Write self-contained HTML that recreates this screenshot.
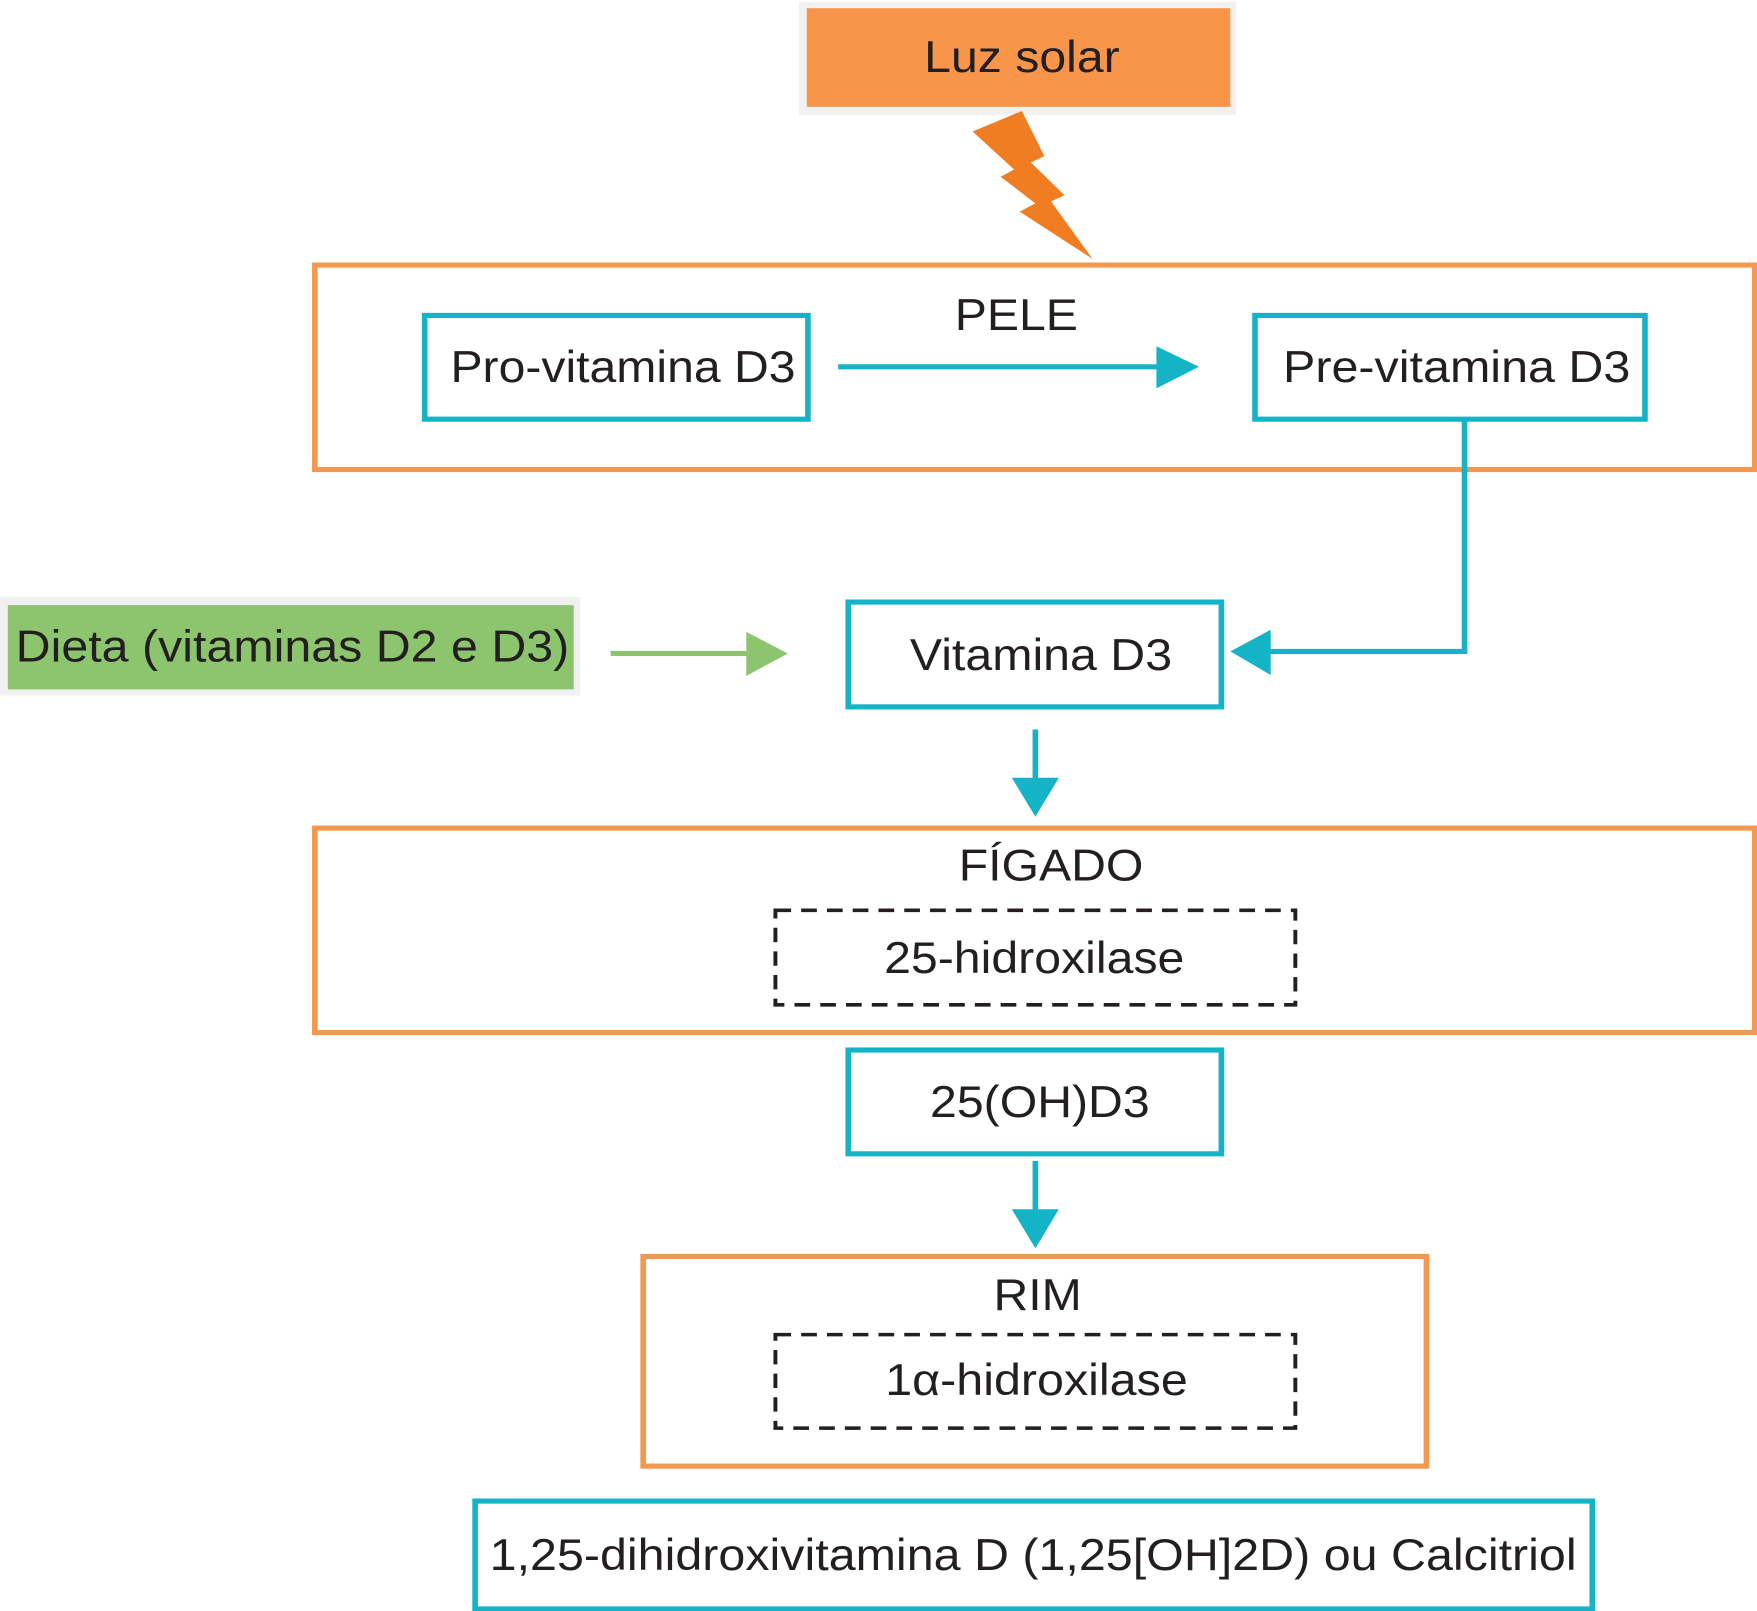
<!DOCTYPE html>
<html><head><meta charset="utf-8"><style>html,body{margin:0;padding:0;background:#fff}svg{display:block}</style></head>
<body>
<svg width="1757" height="1611" viewBox="0 0 1568 1568" preserveAspectRatio="none" xmlns="http://www.w3.org/2000/svg" font-family="Liberation Sans, Arial, sans-serif" fill="#231f20">
<rect x="713" y="2" width="390" height="110" fill="#f1f1f1"/>
<rect x="720" y="8" width="378" height="96" fill="#f7964a"/>
<text x="912" y="70" font-size="43" text-anchor="middle">Luz solar</text>
<polygon points="868,128 912,108 932,152 920,158 950,190 938,196 975,252 910,206 924,198 893,172 905,165" fill="#f07d22"/>
<g fill="none" stroke="#f3984f" stroke-width="5">
<rect x="281" y="258" width="1285" height="199"/>
<rect x="281" y="806" width="1285" height="199"/>
<rect x="574" y="1223" width="699" height="204"/>
</g>
<g fill="none" stroke="#15b3c6" stroke-width="5">
<rect x="379" y="307" width="342" height="101"/>
<rect x="1120" y="307" width="348" height="101"/>
<rect x="757" y="586" width="333" height="102"/>
<rect x="757" y="1022" width="333" height="101"/>
<rect x="424" y="1461" width="997" height="105"/>
<line x1="748" y1="357" x2="1036" y2="357"/>
<polyline points="1307,408 1307,634 1132,634"/>
<line x1="924" y1="710" x2="924" y2="760"/>
<line x1="924" y1="1130" x2="924" y2="1180"/>
</g>
<g fill="#15b3c6">
<polygon points="1032,337 1070,357 1032,378"/>
<polygon points="1134,613 1098,634 1134,657"/>
<polygon points="903,757 924,795 945,757"/>
<polygon points="903,1177 924,1215 945,1177"/>
</g>
<rect x="0" y="581" width="518" height="96" fill="#f1f1f1"/>
<rect x="7" y="589" width="505" height="82" fill="#8dc46e"/>
<text x="14" y="644" font-size="43" textLength="494" lengthAdjust="spacingAndGlyphs">Dieta (vitaminas D2 e D3)</text>
<line x1="545" y1="636" x2="670" y2="636" stroke="#8dc46e" stroke-width="5"/>
<polygon points="666,615 703,636 666,658" fill="#8dc46e"/>
<g fill="none" stroke="#231f20" stroke-width="3.5" stroke-dasharray="14,9">
<rect x="692" y="886" width="464" height="92"/>
<rect x="692" y="1299" width="464" height="91"/>
</g>
<g font-size="43" text-anchor="middle">
<text x="907" y="321">PELE</text>
<text x="556" y="372" textLength="308" lengthAdjust="spacingAndGlyphs">Pro-vitamina D3</text>
<text x="1300" y="372" textLength="310" lengthAdjust="spacingAndGlyphs">Pre-vitamina D3</text>
<text x="929" y="652" textLength="234" lengthAdjust="spacingAndGlyphs">Vitamina D3</text>
<text x="938" y="857">FÍGADO</text>
<text x="923" y="947" textLength="268" lengthAdjust="spacingAndGlyphs">25-hidroxilase</text>
<text x="928" y="1087" textLength="196" lengthAdjust="spacingAndGlyphs">25(OH)D3</text>
<text x="926" y="1275">RIM</text>
<text x="925" y="1358" textLength="270" lengthAdjust="spacingAndGlyphs">1α-hidroxilase</text>
<text x="922" y="1528" textLength="970" lengthAdjust="spacingAndGlyphs">1,25-dihidroxivitamina D (1,25[OH]2D) ou Calcitriol</text>
</g>
</svg>
</body></html>
